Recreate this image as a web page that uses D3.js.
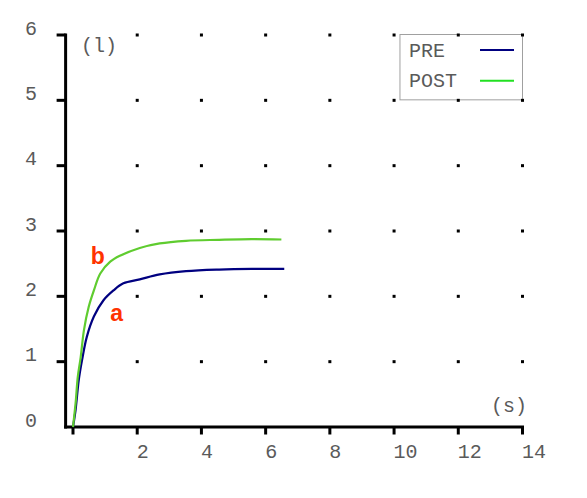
<!DOCTYPE html>
<html>
<head>
<meta charset="utf-8">
<script src="https://cdn.jsdelivr.net/npm/d3@7"></script>
<style>
  html, body { margin: 0; padding: 0; background: #fff; }
  svg { display: block; }
  .mono { font-family: "Liberation Mono", "Courier New", monospace; fill: #5a5a5a; }
  .ann { font-family: "Liberation Sans", Arial, Helvetica, sans-serif; font-weight: bold; fill: #ff3300; }
</style>
</head>
<body>
<svg id="chart" width="587" height="498"></svg>
<script>
// ---- data ----
const preX  = [0, 0.08, 0.18, 0.28, 0.43, 0.65, 0.95, 1.26, 1.57, 2.08, 2.70, 3.52, 4.55, 5.57, 6.58];
const preY  = [0, 0.26, 0.72, 1.02, 1.38, 1.69, 1.94, 2.09, 2.20, 2.26, 2.335, 2.385, 2.41, 2.42, 2.42];
const postX = [0, 0.08, 0.15, 0.24, 0.34, 0.49, 0.65, 0.85, 1.16, 1.46, 2.08, 2.70, 3.52, 4.55, 5.57, 6.49];
const postY = [0, 0.36, 0.77, 1.07, 1.48, 1.84, 2.09, 2.35, 2.53, 2.62, 2.74, 2.81, 2.85, 2.865, 2.875, 2.87];
const xTicks = [0, 2, 4, 6, 8, 10, 12, 14];
const xTickLabels = ["", "2", "4", "6", "8", "10", "12", "14"];
const yTicks = [0, 1, 2, 3, 4, 5, 6];
const yTickLabels = ["0", "1", "2", "3", "4", "5", "6"];
const legendLabels = ["PRE", "POST"];
const annotations = [{text: "b", x: 0.55, y: 2.5}, {text: "a", x: 1.16, y: 1.62}];

// ---- styling ----
const preColor = "#000080";
const postColor = "#5fcc2f";
const postLegendColor = "#22e022";

const svg = d3.select("#chart");
const x = d3.scaleLinear().domain([0, 14]).range([73, 522.5]);
const y = d3.scaleLinear().domain([0, 6]).range([427, 35]);
const xStart = -0.23;

// grid dots
const gridPts = [];
xTicks.filter(d => d > 0).forEach(xv => yTicks.filter(d => d > 0).forEach(yv => gridPts.push([xv, yv])));

// legend box (drawn before dots so border dots remain visible)
const lg = svg.append("g");
lg.append("rect")
  .attr("x", x(9.95) + 7.5).attr("y", y(6) - 0.5)
  .attr("width", x(14) - x(9.95) - 7.5).attr("height", y(5) - y(6))
  .attr("fill", "#fff").attr("stroke", "#a0a0a0").attr("stroke-width", 1);

svg.append("g").selectAll("rect").data(gridPts).join("rect")
  .attr("x", d => x(d[0]) - 1.5).attr("y", d => y(d[1]) - 1.5)
  .attr("width", 3).attr("height", 3).attr("fill", "#000");

const legendColors = [preColor, postLegendColor];
const legendYs = [5.77, 5.3];
legendLabels.forEach((lab, i) => {
  const cy = y(legendYs[i]);
  lg.append("text").attr("class", "mono").attr("font-size", 20)
    .attr("x", 409).attr("y", cy + 6.5).text(lab);
  lg.append("line").attr("x1", 480).attr("x2", 514).attr("y1", cy).attr("y2", cy)
    .attr("stroke", legendColors[i]).attr("stroke-width", 2);
});

// axes
const ax = svg.append("g");
ax.append("line").attr("x1", x(xStart)).attr("x2", x(xStart))
  .attr("y1", y(6) - 1.5).attr("y2", y(0) + 1.5).attr("stroke", "#000").attr("stroke-width", 3);
ax.append("line").attr("x1", x(xStart) - 1.5).attr("x2", x(14) + 1.5)
  .attr("y1", y(0)).attr("y2", y(0)).attr("stroke", "#000").attr("stroke-width", 3);

ax.selectAll(".xt").data(xTicks).join("line").attr("class", "xt")
  .attr("x1", d => x(d)).attr("x2", d => x(d))
  .attr("y1", y(0)).attr("y2", y(0) + 7.5).attr("stroke", "#000").attr("stroke-width", 3);
ax.selectAll(".xl").data(xTicks).join("text").attr("class", "xl mono")
  .attr("font-size", 20).attr("text-anchor", "start")
  .attr("x", d => x(d) - 0.5).attr("y", 458)
  .text((d, i) => xTickLabels[i]);

ax.selectAll(".yt").data(yTicks.filter(d => d > 0)).join("line").attr("class", "yt")
  .attr("x1", x(xStart) - 9).attr("x2", x(xStart))
  .attr("y1", d => y(d)).attr("y2", d => y(d)).attr("stroke", "#000").attr("stroke-width", 3);
ax.selectAll(".yl").data(yTicks).join("text").attr("class", "yl mono")
  .attr("font-size", 20).attr("text-anchor", "end")
  .attr("x", 37).attr("y", d => y(d) - 0.5)
  .text((d, i) => yTickLabels[i]);

// unit labels
svg.append("text").attr("class", "mono").attr("font-size", 20)
  .attr("x", 81).attr("y", 52).text("(l)");
svg.append("text").attr("class", "mono").attr("font-size", 20).attr("text-anchor", "end")
  .attr("x", 527).attr("y", 412).text("(s)");

// curves
const line = d3.line().x(d => x(d[0])).y(d => y(d[1])).curve(d3.curveCatmullRom.alpha(0.5));
svg.append("path").datum(preX.map((v, i) => [v, preY[i]]))
  .attr("d", line).attr("fill", "none").attr("stroke", preColor).attr("stroke-width", 2.2);
svg.append("path").datum(postX.map((v, i) => [v, postY[i]]))
  .attr("d", line).attr("fill", "none").attr("stroke", postColor).attr("stroke-width", 2.2);

// annotations
svg.selectAll(".ann").data(annotations).join("text").attr("class", "ann")
  .attr("font-size", 23)
  .attr("x", d => x(d.x)).attr("y", d => y(d.y))
  .text(d => d.text);
</script>
</body>
</html>
